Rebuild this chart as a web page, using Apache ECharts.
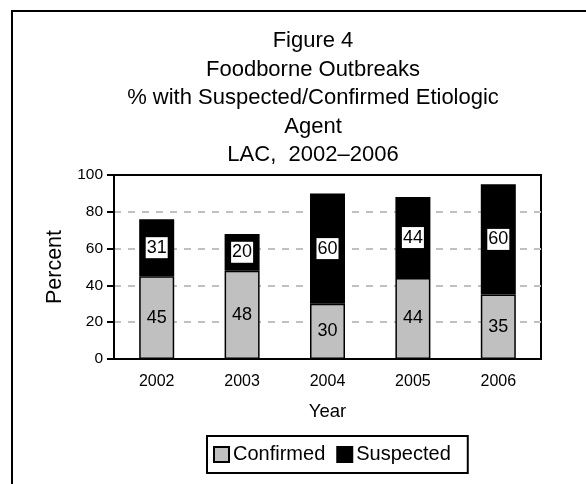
<!DOCTYPE html>
<html><head><meta charset="utf-8">
<script src="https://cdn.jsdelivr.net/npm/echarts@6/dist/echarts.min.js"></script>
<style>html,body{margin:0;padding:0;background:#fff}#c{width:586px;height:484px}</style>
</head><body><div id="c"></div>
<script>
const years = ['2002','2003','2004','2005','2006'];
const confirmed = [45, 48, 30, 44, 35];
const suspected = [31, 20, 60, 44, 60];
const titleLines = ['Figure 4','Foodborne Outbreaks','% with Suspected/Confirmed Etiologic','Agent','LAC,  2002\u20132006'];
const F = 'Liberation Sans, Arial, sans-serif';
const chart = echarts.init(document.getElementById('c'), null, {renderer:'canvas'});
chart.setOption({
  animation:false,
  textStyle:{fontFamily:F},
  graphic:[{type:'polyline',shape:{points:[[12,600],[12,11],[600,11]]},style:{fill:'none',stroke:'#000',lineWidth:2},silent:true}],
  title:{text:titleLines.join('\n'),left:313,top:27,padding:0,textAlign:'center',
    textStyle:{fontFamily:F,fontSize:22,fontWeight:'normal',color:'#000',lineHeight:28.5}},
  grid:{left:114,top:175,width:427,height:184,show:true,borderColor:'#000',borderWidth:2,backgroundColor:'transparent'},
  legend:{left:207,top:436,orient:'horizontal',itemWidth:15,itemHeight:15,itemGap:11,padding:[8,17,8,6],
    borderColor:'#000',borderWidth:2,icon:'rect',
    textStyle:{fontFamily:F,fontSize:20,color:'#000',lineHeight:21,padding:[0,0,0,-1]},
    data:['Confirmed','Suspected']},
  xAxis:{type:'category',data:years,name:'Year',nameLocation:'middle',nameGap:43,
    nameTextStyle:{fontFamily:F,fontSize:18.5,color:'#000'},
    axisLine:{lineStyle:{color:'#000',width:2}},axisTick:{show:false},
    axisLabel:{fontFamily:F,fontSize:16,color:'#000',margin:15}},
  yAxis:{type:'value',min:0,max:100,interval:20,name:'Percent',nameLocation:'middle',nameGap:48,
    nameTextStyle:{fontFamily:F,fontSize:21.5,color:'#000'},
    axisLine:{show:true,lineStyle:{color:'#000',width:2}},
    axisTick:{show:true,length:7,lineStyle:{color:'#000',width:2}},
    axisLabel:{fontFamily:F,fontSize:15.5,color:'#000',margin:11},
    splitLine:{show:true,showMaxLine:false,showMinLine:false,lineStyle:{color:'#c0c0c0',width:2,type:[7,7]}}},
  series:[
    {name:'Confirmed',type:'bar',stack:'a',barWidth:35,data:confirmed,
     itemStyle:{color:'#c0c0c0',borderColor:'#000',borderWidth:1.5},
     label:{show:true,position:'inside',fontFamily:F,fontSize:18,color:'#000'}},
    {name:'Suspected',type:'bar',stack:'a',barWidth:35,data:suspected,
     itemStyle:{color:'#000',borderColor:'#000',borderWidth:1.5},
     label:{show:true,position:'inside',fontFamily:F,fontSize:18,color:'#000',backgroundColor:'#fff',padding:[2,1,1,1]}}
  ]
});
</script></body></html>
